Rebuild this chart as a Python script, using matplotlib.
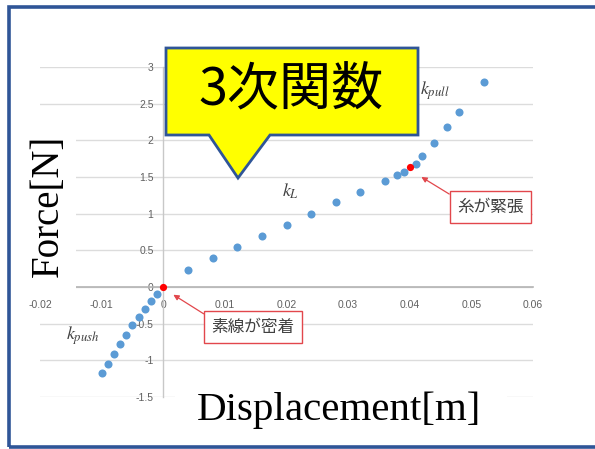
import matplotlib
matplotlib.use("Agg")
import matplotlib.pyplot as plt
from matplotlib.patches import Polygon, Rectangle

plt.rcParams["font.family"] = ["Noto Sans CJK JP", "DejaVu Sans"]
plt.rcParams["mathtext.fontset"] = "stix"

# 変位 [m] と力 [N] の測定値
disp_push = [-0.001, -0.002, -0.003, -0.004, -0.005, -0.006, -0.007, -0.008, -0.009, -0.010]
force_push = [-0.09, -0.19, -0.30, -0.41, -0.52, -0.66, -0.78, -0.92, -1.05, -1.17]
disp_pull = [0.004, 0.008, 0.012, 0.016, 0.020, 0.024, 0.028, 0.032, 0.036,
             0.038, 0.039, 0.041, 0.042, 0.044, 0.046, 0.048, 0.052]
force_pull = [0.23, 0.40, 0.55, 0.70, 0.84, 1.00, 1.16, 1.30, 1.45,
              1.53, 1.57, 1.68, 1.78, 1.96, 2.18, 2.38, 2.79]
# 変化点（素線が密着 / 糸が緊張）
disp_mark = [0.0, 0.040]
force_mark = [0.0, 1.63]

xticks = [-0.02, -0.01, 0, 0.01, 0.02, 0.03, 0.04, 0.05, 0.06]
xtick_labels = ["-0.02", "-0.01", "0", "0.01", "0.02", "0.03", "0.04", "0.05", "0.06"]
yticks = [-1.5, -1, -0.5, 0, 0.5, 1, 1.5, 2, 2.5, 3]
ytick_labels = ["-1.5", "-1", "-0.5", "0", "0.5", "1", "1.5", "2", "2.5", "3"]

W, H = 595, 449
fig = plt.figure(figsize=(W / 100, H / 100), dpi=100)


def fx(px):
    return px / W


def fy(py):
    return 1 - py / H


ax = fig.add_axes([fx(40), fy(397), 493 / W, 330 / H])
ax.set_xlim(-0.02, 0.06)
ax.set_ylim(-1.5, 3)
for s in ("top", "right"):
    ax.spines[s].set_visible(False)
ax.spines["left"].set_position(("data", 0))
ax.spines["bottom"].set_position(("data", 0))
ax.spines["left"].set_color("#c8c8c8")
ax.spines["bottom"].set_color("#b4b4b4")
ax.spines["left"].set_linewidth(1.0)
ax.spines["bottom"].set_linewidth(1.2)

ax.set_xticks(xticks)
ax.set_xticklabels(xtick_labels)
ax.set_yticks(yticks)
ax.set_yticklabels(ytick_labels)
ax.tick_params(length=0, labelsize=7.5, labelcolor="#606060")
ax.tick_params(axis="x", pad=9)
ax.tick_params(axis="y", pad=7)
for lab in ax.get_xticklabels() + ax.get_yticklabels():
    lab.set_family("Liberation Sans")
ax.yaxis.grid(True, color="#dcdcdc", lw=1.0)
ax.set_axisbelow(True)

blue = "#5b9bd5"
ax.plot(disp_push, force_push, "o", color=blue, ms=5.8, mec="none", zorder=4)
ax.plot(disp_pull, force_pull, "o", color=blue, ms=5.8, mec="none", zorder=4)
ax.plot(disp_mark, force_mark, "o", color="#ff0000", ms=5.2, mec="none", zorder=5)

# ばね定数のラベル
kcol = "#404040"
ax.text(0.0206, 1.31, r"$k_L$", fontsize=13, color=kcol, ha="center", va="center")
ax.text(0.0441, 2.68, r"$k_{pull}$", fontsize=13, color=kcol, ha="center", va="center")
ax.text(-0.0131, -0.66, r"$k_{push}$", fontsize=13, color=kcol, ha="center", va="center")

red = "#e2474c"
box = dict(boxstyle="square,pad=0.45", fc="white", ec=red, lw=1.0)
ax.annotate("素線が密着", xy=(0.00125, -0.085), xytext=(0.0146, -0.55),
            fontsize=12, color="#404040", ha="center", va="center", bbox=box,
            arrowprops=dict(arrowstyle="-|>", color=red, lw=0.9, mutation_scale=8,
                            relpos=(0, 1), shrinkA=0, shrinkB=2))
ax.annotate("糸が緊張", xy=(0.0415, 1.52), xytext=(0.0531, 1.085),
            fontsize=12, color="#404040", ha="center", va="center", bbox=box,
            arrowprops=dict(arrowstyle="-|>", color=red, lw=0.9, mutation_scale=8,
                            relpos=(0, 1), shrinkA=0, shrinkB=2))

# 軸タイトル（背景を白で塗る）
fig.add_artist(Rectangle((fx(36), fy(296)), 40 / W, 176 / H, transform=fig.transFigure,
                         fc="white", ec="none", zorder=1))
fig.text(fx(48), fy(206), "Force[N]", rotation=90, ha="center", va="center",
         fontsize=28, family="Liberation Serif", zorder=2)
fig.add_artist(Rectangle((fx(175), fy(436)), 332 / W, 52 / H, transform=fig.transFigure,
                         fc="white", ec="none", zorder=1))
fig.text(fx(339), fy(410), "Displacement[m]", ha="center", va="center",
         fontsize=29.5, family="Liberation Serif", zorder=2)

# 吹き出し
frame_col = "#2f5597"
callout = [(166, 48), (418, 48), (418, 135), (270, 135), (238, 178), (209, 135), (166, 135)]
fig.add_artist(Polygon([(fx(x), fy(y)) for x, y in callout], closed=True,
                       transform=fig.transFigure, fc="#ffff00", ec=frame_col, lw=2, zorder=3))
fig.text(fx(291), fy(91), "3次関数", ha="center", va="center", fontsize=37.5, zorder=4)

# 外枠
fig.add_artist(Rectangle((fx(8.5), fy(447)), 1.0, 440 / H, transform=fig.transFigure,
                         fc="none", ec=frame_col, lw=2.6, zorder=5))

fig.savefig("out.png", dpi=100)
